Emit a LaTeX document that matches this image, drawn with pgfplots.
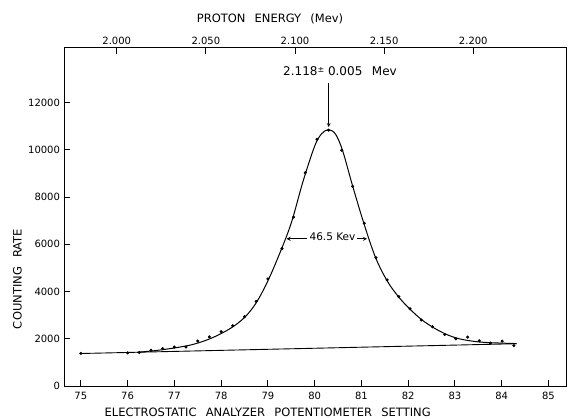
\documentclass[border=0pt]{standalone}
\usepackage{fontspec}
\setmainfont{DejaVu Sans}
\usepackage{pgfplots}
\pgfplotsset{compat=1.18}
\newcommand\ws{\hspace{0.8em}}
\begin{document}
\begin{tikzpicture}
\begin{axis}[name=ax, scale only axis, width=502.7pt, height=338.3pt,
  xmin=74.64, xmax=85.39, ymin=0, ymax=14320,
  xtick={75,76,...,85}, ytick={0,2000,...,12000},
  xtick pos=bottom, ytick pos=left,
  tick align=inside, major tick length=6pt,
  scaled y ticks=false,
  /pgf/number format/assume math mode=true,
  /pgf/number format/1000 sep={},
  tick label style={font=\fontsize{10}{12}\selectfont},
  xticklabel style={yshift=-3pt},
  yticklabel style={xshift=-0.5pt},
  axis line style={line width=0.9pt},
  tick style={line width=0.9pt, black},
  clip=false]
% baseline
\addplot[black, line width=0.9pt] coordinates {(75,1375) (84.32,1790)};
% fitted curve
\addplot[black, line width=1pt, smooth, tension=0.55] coordinates {
(76.2,1425) (76.6,1500) (77.0,1610) (77.4,1760) (77.8,2030) (78.2,2440)
(78.5,2900) (78.75,3520) (79.0,4450) (79.25,5600) (79.5,6900) (79.75,8650)
(80.0,10150) (80.15,10680) (80.3,10850) (80.45,10650) (80.6,9950) (80.8,8550)
(81.05,6900) (81.3,5450) (81.55,4450) (81.8,3760) (82.05,3230) (82.3,2790)
(82.55,2460) (82.8,2200) (83.05,2020) (83.3,1920) (83.6,1850) (84.0,1815) (84.32,1795)};
% data points
\addplot[only marks, mark=*, mark size=1.35pt, black] coordinates {
(75.00,1380) (76.00,1400) (76.25,1415) (76.50,1510) (76.75,1580) (77.00,1650)
(77.25,1650) (77.50,1900) (77.75,2080) (78.00,2300) (78.25,2550) (78.50,2930)
(78.75,3580) (79.00,4530) (79.30,5820) (79.55,7150) (79.80,9030) (80.05,10440)
(80.30,10830) (80.58,9980) (80.81,8450) (81.06,6890) (81.31,5430) (81.55,4490)
(81.80,3780) (82.04,3270) (82.28,2790) (82.52,2505) (82.78,2180) (83.02,2000)
(83.27,2070) (83.52,1910) (83.76,1815) (84.01,1900) (84.26,1710)};
\draw[->, line width=0.8pt, >=stealth] (axis cs:80.30,12830) -- (axis cs:80.30,10960);
\draw[->, line width=0.8pt, >=stealth] (axis cs:79.83,6230) -- (axis cs:79.40,6230);
\draw[->, line width=0.8pt, >=stealth] (axis cs:80.91,6230) -- (axis cs:81.12,6230);
\end{axis}
\begin{axis}[at={(ax.south west)}, anchor=south west,
  scale only axis, width=502.7pt, height=338.3pt,
  xmin=1.9704, xmax=2.2524, ymin=0, ymax=1,
  axis x line*=top, axis y line=none,
  axis line style={-, line width=0.9pt},
  xtick={2.0,2.05,2.1,2.15,2.2},
  xticklabels={2.000,2.050,2.100,2.150,2.200},
  tick align=inside, major tick length=6pt,
  tick style={line width=0.9pt, black},
  tick label style={font=\fontsize{10}{12}\selectfont}]
\end{axis}
\begin{scope}[shift={(ax.south west)}]
\node[font=\fontsize{11.5}{13}\selectfont, inner sep=0pt] at (206pt,367pt) {PROTON\ws ENERGY\ws (Mev)};
\node[font=\fontsize{11.5}{13}\selectfont, inner sep=0pt] at (203.7pt,-26pt) {ELECTROSTATIC\ws ANALYZER\ws POTENTIOMETER\ws SETTING};
\node[font=\fontsize{11.5}{13}\selectfont, inner sep=0pt, rotate=90] at (-46.5pt,107pt) {COUNTING\ws RATE};
\node[font=\fontsize{12}{14}\selectfont] at (276pt,314.5pt) {2.118\raisebox{3pt}{\fontsize{8}{8}\selectfont ±}\ 0.005\ws Mev};
\node[font=\fontsize{10.5}{12}\selectfont, inner sep=1pt] at (268.5pt,149pt) {46.5 Kev};
\end{scope}
\pgfresetboundingbox
\path[use as bounding box] (ax.south west) ++(-64pt,-33pt) rectangle ++(568pt,419pt);
\end{tikzpicture}
\end{document}
